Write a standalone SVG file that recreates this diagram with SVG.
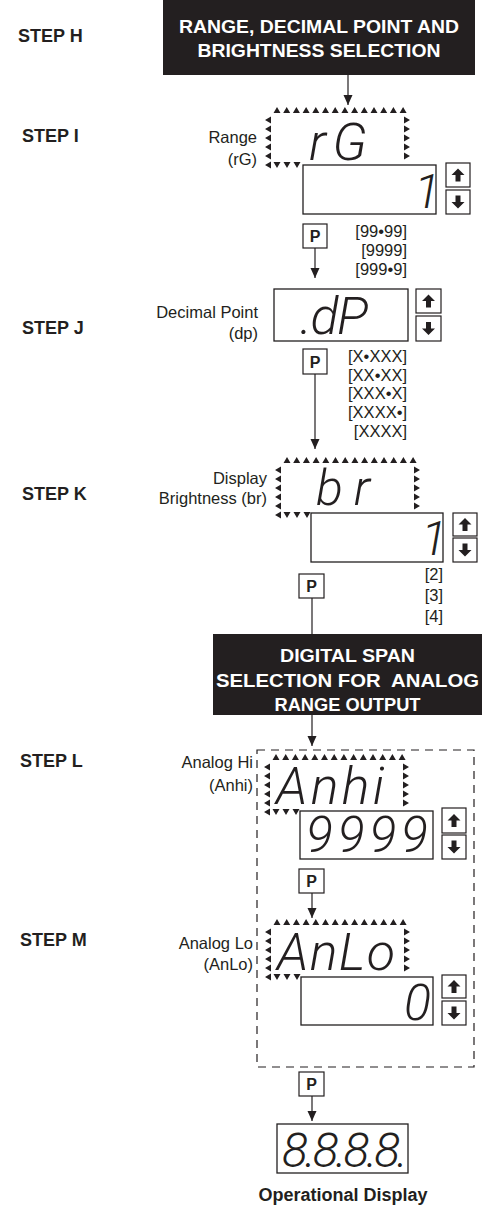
<svg xmlns="http://www.w3.org/2000/svg" xmlns:xlink="http://www.w3.org/1999/xlink" width="489" height="1205" viewBox="0 0 489 1205">
<style>
.lbl{font-family:"Liberation Sans",Arial,sans-serif;font-size:16.5px;fill:#231f20}
.end{text-anchor:end}
.step{font-family:"Liberation Sans",Arial,sans-serif;font-weight:bold;font-size:18px;fill:#231f20}
.hd{font-family:"Liberation Sans",Arial,sans-serif;font-weight:bold;font-size:18px;fill:#fff;text-anchor:middle}
.seg{font-family:Roboto,"DejaVu Sans",sans-serif;font-style:italic;font-weight:300;fill:#231f20}
.box{fill:#fff;stroke:#231f20;stroke-width:1.3}
.btn{fill:#fff;stroke:#231f20;stroke-width:1.2}
.pbox{fill:#fff;stroke:#231f20;stroke-width:1.2}
.pt{font-family:"Liberation Sans",Arial,sans-serif;font-weight:bold;font-size:16px;fill:#231f20;text-anchor:middle}
.conn{stroke:#231f20;stroke-width:1.2;fill:none}
.dash{fill:none;stroke:#231f20;stroke-width:1.2;stroke-dasharray:8 6}
.tri{fill:#231f20}
</style>
<defs>
<marker id="ah" markerWidth="10" markerHeight="10" refX="10" refY="5" orient="auto" markerUnits="userSpaceOnUse"><path d="M0,0.5 L10,5 L0,9.5 z" fill="#231f20"/></marker>
<path id="aup" d="M0,-6.5 L6.5,0 L2.5,0 L2.5,6.5 L-2.5,6.5 L-2.5,0 L-6.5,0 Z" fill="#231f20"/>
<path id="adn" d="M0,6.5 L6.5,0 L2.5,0 L2.5,-6.5 L-2.5,-6.5 L-2.5,0 L-6.5,0 Z" fill="#231f20"/>
<path id="flash" class="tri" d="M5.5,3h7l-3.5,-6z M15.2,3h7l-3.5,-6z M24.9,3h7l-3.5,-6z M34.6,3h7l-3.5,-6z M44.3,3h7l-3.5,-6z M54,3h7l-3.5,-6z M63.7,3h7l-3.5,-6z M73.4,3h7l-3.5,-6z M83.1,3h7l-3.5,-6z M92.8,3h7l-3.5,-6z M102.5,3h7l-3.5,-6z M112.2,3h7l-3.5,-6z M121.9,3h7l-3.5,-6z M131.6,3h7l-3.5,-6z M3,6.5v7l-6,-3.5z M3,15.5v7l-6,-3.5z M3,24.5v7l-6,-3.5z M3,33.5v7l-6,-3.5z M3,42.5v7l-6,-3.5z M3,51.5v7l-6,-3.5z M136,6.5v7l6,-3.5z M136,15.5v7l6,-3.5z M136,24.5v7l6,-3.5z M136,33.5v7l6,-3.5z M136,42.5v7l6,-3.5z M5.5,52h7l-3.5,6z M15.5,52h7l-3.5,6z M25.5,52h7l-3.5,6z"/>
</defs>

<!-- step labels -->
<g id="steps">
<text class="step" x="18" y="42">STEP H</text>
<text class="step" x="22" y="142">STEP I</text>
<text class="step" x="22" y="334">STEP J</text>
<text class="step" x="22" y="500">STEP K</text>
<text class="step" x="20" y="767">STEP L</text>
<text class="step" x="20" y="946">STEP M</text>
</g>

<!-- connectors -->
<g id="connectors">
<line class="conn" x1="348" y1="75" x2="348" y2="105" marker-end="url(#ah)"/>
<line class="conn" x1="315" y1="248" x2="315" y2="278" marker-end="url(#ah)"/>
<line class="conn" x1="315" y1="374" x2="315" y2="449" marker-end="url(#ah)"/>
<line class="conn" x1="312" y1="598" x2="312" y2="634"/>
<line class="conn" x1="312" y1="715" x2="312" y2="746" marker-end="url(#ah)"/>
<line class="conn" x1="312" y1="893" x2="312" y2="918" marker-end="url(#ah)"/>
<line class="conn" x1="312" y1="1096" x2="312" y2="1121" marker-end="url(#ah)"/>
</g>

<!-- heading 1 -->
<g id="heading1">
<rect x="163" y="0" width="312" height="75" fill="#231f20"/>
<text class="hd" x="319" y="33" textLength="280" lengthAdjust="spacingAndGlyphs">RANGE, DECIMAL POINT AND</text>
<text class="hd" x="319" y="57" textLength="243" lengthAdjust="spacingAndGlyphs">BRIGHTNESS SELECTION</text>
</g>

<!-- step I -->
<g id="stepI">
<text class="lbl end" x="257" y="143">Range</text>
<text class="lbl end" x="257" y="165">(rG)</text>
<use xlink:href="#flash" x="268" y="110"/>
<text class="seg" x="309" y="160" font-size="52" textLength="58" lengthAdjust="spacing">rG</text>
<rect class="box" x="303" y="165" width="133" height="49"/>
<text class="seg end" x="440" y="208" font-size="48">1</text>
<rect class="btn" x="446" y="163" width="24" height="24"/><use xlink:href="#aup" x="458" y="175"/>
<rect class="btn" x="446" y="190" width="24" height="24"/><use xlink:href="#adn" x="458" y="202"/>
<text class="lbl end" x="407" y="237">[99•99]</text>
<text class="lbl end" x="407" y="256">[9999]</text>
<text class="lbl end" x="407" y="275">[999•9]</text>
<rect class="pbox" x="303" y="224" width="24" height="24"/>
<text class="pt" x="315" y="242">P</text>
</g>

<!-- step J -->
<g id="stepJ">
<text class="lbl end" x="258" y="318">Decimal Point</text>
<text class="lbl end" x="258" y="339">(dp)</text>
<rect class="box" x="274" y="289" width="134" height="52"/>
<text class="seg" x="300" y="334" font-size="52" textLength="68" lengthAdjust="spacing">.dP</text>
<rect class="btn" x="416" y="289" width="25" height="24"/><use xlink:href="#aup" x="428.5" y="301"/>
<rect class="btn" x="416" y="316" width="25" height="25"/><use xlink:href="#adn" x="428.5" y="328.5"/>
<text class="lbl end" x="407" y="362">[X•XXX]</text>
<text class="lbl end" x="407" y="381">[XX•XX]</text>
<text class="lbl end" x="407" y="399">[XXX•X]</text>
<text class="lbl end" x="407" y="418">[XXXX•]</text>
<text class="lbl end" x="407" y="437">[XXXX]</text>
<rect class="pbox" x="303" y="349" width="24" height="25"/>
<text class="pt" x="315" y="367.5">P</text>
</g>

<!-- step K -->
<g id="stepK">
<text class="lbl end" x="267" y="484">Display</text>
<text class="lbl end" x="267" y="504">Brightness (br)</text>
<use xlink:href="#flash" x="278" y="460"/>
<text class="seg" x="316" y="505" font-size="50" textLength="54" lengthAdjust="spacing">br</text>
<rect class="box" x="311" y="513" width="132" height="49"/>
<text class="seg end" x="447" y="555" font-size="48">1</text>
<rect class="btn" x="453" y="513" width="24" height="23"/><use xlink:href="#aup" x="465" y="524.5"/>
<rect class="btn" x="453" y="538" width="24" height="24"/><use xlink:href="#adn" x="465" y="550"/>
<text class="lbl end" x="443" y="580">[2]</text>
<text class="lbl end" x="443" y="601">[3]</text>
<text class="lbl end" x="443" y="622">[4]</text>
<rect class="pbox" x="299" y="574" width="25" height="24"/>
<text class="pt" x="311.5" y="592">P</text>
</g>

<!-- heading 2 -->
<g id="heading2">
<rect x="213" y="634" width="269" height="81" fill="#231f20"/>
<text class="hd" x="347.5" y="662" textLength="135" lengthAdjust="spacingAndGlyphs">DIGITAL SPAN</text>
<text class="hd" x="347.5" y="687" textLength="263" lengthAdjust="spacingAndGlyphs" style="white-space:pre">SELECTION FOR  ANALOG</text>
<text class="hd" x="347.5" y="711" textLength="146" lengthAdjust="spacingAndGlyphs">RANGE OUTPUT</text>
</g>

<!-- dashed group -->
<g id="analogGroup">
<rect class="dash" x="257" y="750" width="217" height="317"/>
</g>

<!-- step L -->
<g id="stepL">
<text class="lbl end" x="253" y="768">Analog Hi</text>
<text class="lbl end" x="253" y="791">(Anhi)</text>
<use xlink:href="#flash" x="267" y="757"/>
<text class="seg" x="276" y="804" font-size="52" textLength="108" lengthAdjust="spacing">Anhi</text>
<rect class="box" x="300" y="811" width="133" height="48"/>
<text class="seg" x="306" y="852" font-size="50" textLength="122" lengthAdjust="spacing">9999</text>
<rect class="btn" x="442" y="808" width="24" height="25"/><use xlink:href="#aup" x="454" y="820.5"/>
<rect class="btn" x="442" y="835" width="24" height="24"/><use xlink:href="#adn" x="454" y="847"/>
<rect class="pbox" x="299" y="869" width="25" height="24"/>
<text class="pt" x="311.5" y="887">P</text>
</g>

<!-- step M -->
<g id="stepM">
<text class="lbl end" x="253" y="949">Analog Lo</text>
<text class="lbl end" x="253" y="970">(AnLo)</text>
<use xlink:href="#flash" x="268" y="922"/>
<text class="seg" x="277" y="970" font-size="52" textLength="118" lengthAdjust="spacing">AnLo</text>
<rect class="box" x="301" y="977" width="132" height="48"/>
<text class="seg end" x="431" y="1020" font-size="50">0</text>
<rect class="btn" x="442" y="975" width="24" height="23"/><use xlink:href="#aup" x="454" y="986.5"/>
<rect class="btn" x="442" y="1001" width="24" height="24"/><use xlink:href="#adn" x="454" y="1013"/>
</g>

<!-- final -->
<g id="final">
<rect class="pbox" x="299" y="1072" width="25" height="24"/>
<text class="pt" x="311.5" y="1090">P</text>
<rect class="box" x="277" y="1124" width="131" height="49"/>
<text class="seg" x="282" y="1167" font-size="48" textLength="126" lengthAdjust="spacing">8.8.8.8.</text>
<text class="step" x="343" y="1201" text-anchor="middle">Operational Display</text>
</g>
</svg>
